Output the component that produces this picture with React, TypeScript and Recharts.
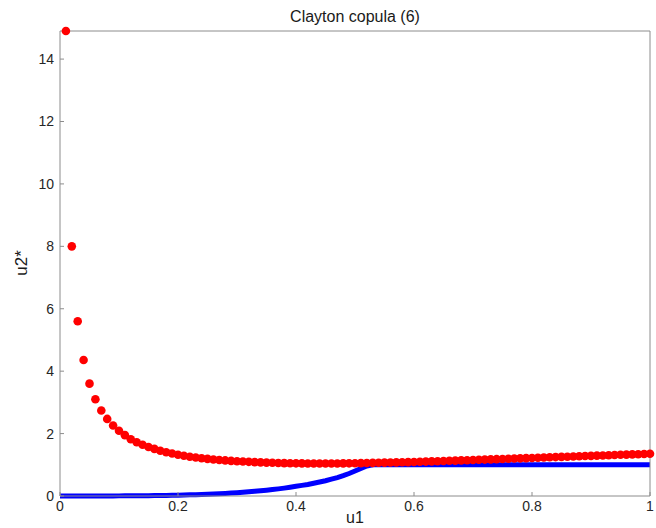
import {
  ComposedChart,
  Line,
  XAxis,
  YAxis,
} from 'recharts';

const uValues = [
  0, 0.01, 0.02, 0.03, 0.04, 0.05, 0.06, 0.07, 0.08, 0.09,
  0.1, 0.11, 0.12, 0.13, 0.14, 0.15, 0.16, 0.17, 0.18, 0.19,
  0.2, 0.21, 0.22, 0.23, 0.24, 0.25, 0.26, 0.27, 0.28, 0.29,
  0.3, 0.31, 0.32, 0.33, 0.34, 0.35, 0.36, 0.37, 0.38, 0.39,
  0.4, 0.41, 0.42, 0.43, 0.44, 0.45, 0.46, 0.47, 0.48, 0.49,
  0.5, 0.51, 0.52, 0.53, 0.54, 0.55, 0.56, 0.57, 0.58, 0.59,
  0.6, 0.61, 0.62, 0.63, 0.64, 0.65, 0.66, 0.67, 0.68, 0.69,
  0.7, 0.71, 0.72, 0.73, 0.74, 0.75, 0.76, 0.77, 0.78, 0.79,
  0.8, 0.81, 0.82, 0.83, 0.84, 0.85, 0.86, 0.87, 0.88, 0.89,
  0.9, 0.91, 0.92, 0.93, 0.94, 0.95, 0.96, 0.97, 0.98, 0.99,
  1,
];

// red dots (no point at u = 0)
const redValues = [
  null, 14.9, 8.0, 5.6, 4.36, 3.6, 3.1, 2.74, 2.47, 2.26,
  2.09, 1.95, 1.82, 1.72, 1.64, 1.57, 1.51, 1.45, 1.4, 1.36,
  1.32, 1.29, 1.26, 1.235, 1.21, 1.19, 1.17, 1.155, 1.14, 1.125,
  1.115, 1.105, 1.095, 1.085, 1.077, 1.07, 1.064, 1.058, 1.054, 1.05,
  1.047, 1.045, 1.043, 1.042, 1.041, 1.041, 1.042, 1.043, 1.045, 1.047,
  1.05, 1.053, 1.057, 1.061, 1.065, 1.069, 1.073, 1.077, 1.082, 1.086,
  1.091, 1.097, 1.103, 1.109, 1.115, 1.121, 1.128, 1.134, 1.141, 1.147,
  1.154, 1.16, 1.167, 1.173, 1.18, 1.187, 1.193, 1.2, 1.207, 1.213,
  1.22, 1.227, 1.233, 1.24, 1.247, 1.253, 1.26, 1.267, 1.273, 1.28,
  1.287, 1.293, 1.3, 1.307, 1.313, 1.32, 1.327, 1.333, 1.34, 1.347,
  1.353,
];

// thick blue curve
const blueValues = [
  0, 0, 0, 0.001, 0.001, 0.001, 0.002, 0.002, 0.003, 0.003,
  0.004, 0.005, 0.006, 0.007, 0.009, 0.011, 0.013, 0.016, 0.019, 0.023,
  0.027, 0.032, 0.037, 0.043, 0.05, 0.057, 0.065, 0.074, 0.084, 0.095,
  0.107, 0.12, 0.134, 0.15, 0.167, 0.186, 0.206, 0.228, 0.252, 0.28,
  0.31, 0.34, 0.37, 0.41, 0.45, 0.49, 0.54, 0.59, 0.65, 0.72,
  0.8, 0.88, 0.96, 1, 1, 1, 1, 1, 1, 1,
  1, 1, 1, 1, 1, 1, 1, 1, 1, 1,
  1, 1, 1, 1, 1, 1, 1, 1, 1, 1,
  1, 1, 1, 1, 1, 1, 1, 1, 1, 1,
  1, 1, 1, 1, 1, 1, 1, 1, 1, 1,
  1,
];

const xTicks = [0, 0.2, 0.4, 0.6, 0.8, 1];
const yTicks = [0, 2, 4, 6, 8, 10, 12, 14];

const data = uValues.map((u, i) => ({ u, red: redValues[i], blue: blueValues[i] }));

const FONT = '"Liberation Sans", Arial, sans-serif';
const AXIS = '#8c8c8c';
const TICK = { fill: '#262626', fontSize: 14, fontFamily: FONT };

export default function App() {
  return (
    <div style={{ position: 'absolute', left: 0, top: 0, width: 656, height: 528, background: '#fff', fontFamily: FONT }}>
      <ComposedChart
        width={656}
        height={528}
        data={data}
        margin={{ top: 30, right: 5, left: 0, bottom: 0 }}
      >
        <XAxis
          dataKey="u"
          type="number"
          domain={[0, 1]}
          ticks={xTicks}
          height={32}
          stroke={AXIS}
          tickSize={-4}
          tickMargin={9}
          tick={TICK}
        />
        <XAxis
          xAxisId="top"
          orientation="top"
          dataKey="u"
          type="number"
          domain={[0, 1]}
          ticks={xTicks}
          height={1}
          stroke={AXIS}
          tickSize={-4}
          tick={false}
        />
        <YAxis
          type="number"
          domain={[0, 14.9]}
          ticks={yTicks}
          width={60}
          stroke={AXIS}
          tickSize={-4}
          tickMargin={10}
          tick={TICK}
        />
        <YAxis
          yAxisId="right"
          orientation="right"
          type="number"
          domain={[0, 14.9]}
          ticks={yTicks}
          width={1}
          stroke={AXIS}
          tickSize={-4}
          tick={false}
        />
        <Line
          dataKey="blue"
          type="linear"
          stroke="#0000ff"
          strokeWidth={5}
          dot={false}
          activeDot={false}
          isAnimationActive={false}
        />
        <Line
          dataKey="red"
          type="linear"
          stroke="none"
          dot={{ r: 4.3, fill: '#ff0000', stroke: 'none' }}
          activeDot={false}
          isAnimationActive={false}
        />
      </ComposedChart>
      <div style={{ position: 'absolute', left: 55, width: 600, top: 8, textAlign: 'center', fontSize: 16, color: '#1a1a1a' }}>
        Clayton copula (6)
      </div>
      <div style={{ position: 'absolute', left: 55, width: 600, top: 509, textAlign: 'center', fontSize: 16, color: '#1a1a1a' }}>
        u1
      </div>
      <div style={{ position: 'absolute', left: 22, top: 263, transform: 'translate(-50%, -50%) rotate(-90deg)', fontSize: 17, color: '#1a1a1a', whiteSpace: 'nowrap' }}>
        u2*
      </div>
    </div>
  );
}
